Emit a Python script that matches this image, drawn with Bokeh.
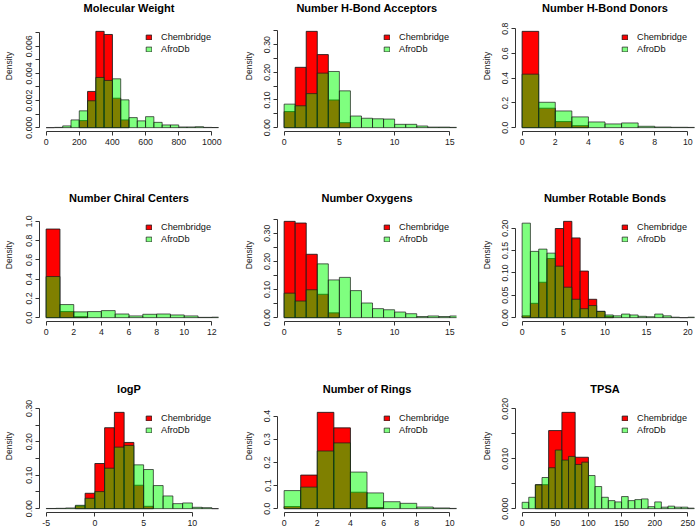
from bokeh.plotting import figure
from bokeh.models import Range1d, FixedTicker, Legend, LegendItem, Label
from bokeh.layouts import gridplot
from bokeh.embed import file_html
from bokeh.resources import INLINE

FONT = "Liberation Sans"

# ---------------- data (densities) ----------------
# Molecular Weight
mw_title = "Molecular Weight"
mw_chem_start, mw_chem_width = 200, 50
mw_chem = [0.00052, 0.00267, 0.0071, 0.00687, 0.00217, 0.00057]
mw_afro_start, mw_afro_width = 0, 50
mw_afro = [0.0, 0.00002, 0.00013, 0.00057, 0.00124, 0.00198, 0.0037, 0.00348, 0.0036,
           0.00205, 0.00074, 0.0005, 0.00081, 0.00039, 0.0002, 0.0002, 0.00005,
           0.00005, 0.00007, 0.00002, 0.00001]
mw_xlim = (0, 1000)
mw_ylim = 0.0071
mw_xticks = [0, 200, 400, 600, 800, 1000]
mw_yticks = [0.0, 0.001, 0.002, 0.003, 0.004, 0.005, 0.006, 0.007]
mw_ylabels = ["0.000", "", "0.002", "", "0.004", "", "0.006", ""]

# Number H-Bond Acceptors
hba_title = "Number H-Bond Acceptors"
hba_chem_start, hba_chem_width = 0, 1
hba_chem = [0.058, 0.218, 0.348, 0.264, 0.100, 0.018]
hba_afro_start, hba_afro_width = 0, 1
hba_afro = [0.085, 0.079, 0.123, 0.197, 0.203, 0.133, 0.042, 0.034, 0.032, 0.031,
            0.012, 0.012, 0.006, 0.002, 0.002, 0.001]
hba_xlim = (0, 15)
hba_ylim = 0.348
hba_xticks = [0, 5, 10, 15]
hba_yticks = [0.0, 0.05, 0.10, 0.15, 0.20, 0.25, 0.30, 0.35]
hba_ylabels = ["0.00", "", "0.10", "", "0.20", "", "0.30", ""]

# Number H-Bond Donors
hbd_title = "Number H-Bond Donors"
hbd_chem_start, hbd_chem_width = 0, 1
hbd_chem = [0.778, 0.157, 0.049, 0.016]
hbd_afro_start, hbd_afro_width = 0, 1
hbd_afro = [0.432, 0.205, 0.135, 0.087, 0.046, 0.030, 0.038, 0.011, 0.005, 0.003, 0.002]
hbd_xlim = (0, 10)
hbd_ylim = 0.778
hbd_xticks = [0, 2, 4, 6, 8, 10]
hbd_yticks = [0.0, 0.2, 0.4, 0.6, 0.8]
hbd_ylabels = ["0.0", "0.2", "0.4", "0.6", "0.8"]

# Number Chiral Centers
chi_title = "Number Chiral Centers"
chi_chem_start, chi_chem_width = 0, 1
chi_chem = [0.920, 0.063, 0.010]
chi_afro_start, chi_afro_width = 0, 1
chi_afro = [0.427, 0.136, 0.060, 0.063, 0.073, 0.038, 0.018, 0.035, 0.038, 0.028,
            0.018, 0.003, 0.005]
chi_xlim = (0, 12)
chi_ylim = 1.0
chi_xticks = [0, 2, 4, 6, 8, 10, 12]
chi_yticks = [0.0, 0.2, 0.4, 0.6, 0.8, 1.0]
chi_ylabels = ["0.0", "0.2", "0.4", "0.6", "0.8", "1.0"]

# Number Oxygens
oxy_title = "Number Oxygens"
oxy_chem_start, oxy_chem_width = 0, 1
oxy_chem = [0.342, 0.336, 0.225, 0.083, 0.017]
oxy_afro_start, oxy_afro_width = 0, 1
oxy_afro = [0.087, 0.059, 0.099, 0.191, 0.134, 0.143, 0.096, 0.052, 0.032, 0.028,
            0.020, 0.014, 0.004, 0.006, 0.004, 0.006]
oxy_xlim = (0, 15)
oxy_ylim = 0.342
oxy_xticks = [0, 5, 10, 15]
oxy_yticks = [0.0, 0.05, 0.10, 0.15, 0.20, 0.25, 0.30, 0.35]
oxy_ylabels = ["0.00", "", "0.10", "", "0.20", "", "0.30", ""]

# Number Rotable Bonds
rot_title = "Number Rotable Bonds"
rot_chem_start, rot_chem_width = 0, 1
rot_chem = [0.004, 0.032, 0.079, 0.132, 0.199, 0.215, 0.178, 0.104, 0.041, 0.014, 0.003]
rot_afro_start, rot_afro_width = 0, 1
rot_afro = [0.211, 0.148, 0.153, 0.144, 0.115, 0.068, 0.041, 0.020, 0.027, 0.014,
            0.006, 0.004, 0.008, 0.006, 0.003, 0.002, 0.008, 0.004, 0.001, 0.000, 0.001]
rot_xlim = (0, 20)
rot_ylim = 0.215
rot_xticks = [0, 5, 10, 15, 20]
rot_yticks = [0.0, 0.05, 0.10, 0.15, 0.20]
rot_ylabels = ["0.00", "0.05", "0.10", "0.15", "0.20"]

# logP
logp_title = "logP"
logp_chem_start, logp_chem_width = -2, 1
logp_chem = [0.008, 0.046, 0.135, 0.242, 0.288, 0.198, 0.070, 0.007]
logp_afro_start, logp_afro_width = -5, 1
logp_afro = [0.0005, 0.001, 0.002, 0.010, 0.031, 0.051, 0.121, 0.184, 0.189, 0.131,
             0.117, 0.069, 0.038, 0.015, 0.017, 0.004, 0.003, 0.0]
logp_xlim = (-5, 12)
logp_ylim = 0.288
logp_xticks = [-5, 0, 5, 10]
logp_yticks = [0.0, 0.05, 0.10, 0.15, 0.20, 0.25, 0.30]
logp_ylabels = ["0.00", "", "0.10", "", "0.20", "", "0.30"]

# Number of Rings
ring_title = "Number of Rings"
ring_chem_start, ring_chem_width = 0, 1
ring_chem = [0.009, 0.145, 0.416, 0.349, 0.071, 0.005]
ring_afro_start, ring_afro_width = 0, 1
ring_afro = [0.078, 0.093, 0.249, 0.284, 0.158, 0.068, 0.030, 0.023, 0.007, 0.003, 0.001]
ring_xlim = (0, 10)
ring_ylim = 0.416
ring_xticks = [0, 2, 4, 6, 8, 10]
ring_yticks = [0.0, 0.1, 0.2, 0.3, 0.4]
ring_ylabels = ["0.0", "0.1", "0.2", "0.3", "0.4"]

# TPSA
tpsa_title = "TPSA"
tpsa_chem_start, tpsa_chem_width = 20, 20
tpsa_chem = [0.0048, 0.01565, 0.0193, 0.0103]
tpsa_afro_start, tpsa_afro_width = 0, 10
tpsa_afro = [0.00127, 0.00228, 0.00477, 0.00624, 0.0082, 0.01174, 0.00973, 0.01047,
             0.00886, 0.00932, 0.00664, 0.00443, 0.00228, 0.00161, 0.00135, 0.00242,
             0.00161, 0.00181, 0.00195, 0.0004, 0.00135, 0.0003, 0.0005, 0.0003,
             0.0003, 0.0001]
tpsa_xlim = (0, 250)
tpsa_ylim = 0.0193
tpsa_xticks = [0, 50, 100, 150, 200, 250]
tpsa_yticks = [0.0, 0.005, 0.010, 0.015, 0.020]
tpsa_ylabels = ["0.000", "", "0.010", "", "0.020"]

series_names = ["Chembridge", "AfroDb"]

# ---------------- layout ----------------
COL_W = [240, 238, 219]
LEFT = [39, 37, 37]
RIGHT = [22, 22, 3]
FRAME_W = 179
ROW_H = [188, 191, 152]
TOP = [27, 29, 29]        # space above the plot region (holds the title)
BOTTOM = [57, 58, 19]
FRAME_H = 104             # height of the plot region proper
LABEL_STANDOFF = [10, 8, 8]
TITLE_GAP = 19.8


def edges(start, width, vals):
    lefts = [start + i * width for i in range(len(vals))]
    rights = [l + width for l in lefts]
    return lefts, rights


def make_panel(r, c, title, cs, cw, chem, a_s, aw, afro, xlim, ylim, xticks, yticks, ylabels):
    xr = xlim[1] - xlim[0]
    per_px = 1.08 * ylim / FRAME_H
    p = figure(width=COL_W[c], height=ROW_H[r], output_backend="svg",
               toolbar_location=None, tools="",
               x_range=Range1d(xlim[0] - 0.04 * xr, xlim[1] + 0.04 * xr),
               y_range=Range1d(-0.04 * ylim, 1.04 * ylim + TOP[r] * per_px),
               min_border_left=LEFT[c], min_border_right=RIGHT[c],
               min_border_top=0, min_border_bottom=BOTTOM[r])
    p.outline_line_color = None
    p.grid.visible = False
    p.background_fill_color = "white"
    p.border_fill_color = "white"

    # panel title, centred above the plotting region
    p.add_layout(Label(x=FRAME_W / 2, y=FRAME_H + TITLE_GAP, x_units="screen", y_units="screen",
                       text=title, text_align="center", text_baseline="middle",
                       text_font=FONT, text_font_size="11px", text_font_style="bold",
                       text_color="black"))

    cl, cr = edges(cs, cw, chem)
    al, ar = edges(a_s, aw, afro)
    rc = p.quad(left=cl, right=cr, bottom=0, top=chem, fill_color="#ff0000", fill_alpha=1.0,
                line_color="#1a1a1a", line_alpha=0.85, line_width=1)
    ra = p.quad(left=al, right=ar, bottom=0, top=afro, fill_color="#00ff00", fill_alpha=0.5,
                line_color="#1a1a1a", line_alpha=0.7, line_width=1)

    for ax in (p.xaxis[0], p.yaxis[0]):
        ax.axis_line_color = "#333333"
        ax.major_tick_line_color = "#333333"
        ax.major_tick_in = 0
        ax.major_tick_out = 4
        ax.minor_tick_line_color = None
        ax.major_label_text_font = FONT
        ax.major_label_text_font_size = "8.8px"
        ax.major_label_text_color = "#222222"
        ax.major_label_standoff = 3

    p.xaxis.ticker = FixedTicker(ticks=xticks)
    p.xaxis.bounds = (xticks[0], xticks[-1])
    p.xaxis.major_label_overrides = {t: str(t) for t in xticks}

    p.yaxis.ticker = FixedTicker(ticks=yticks)
    p.yaxis.bounds = (yticks[0], yticks[-1])
    p.yaxis.major_label_overrides = {t: s for t, s in zip(yticks, ylabels)}
    p.yaxis.major_label_orientation = "vertical"
    p.yaxis.axis_label = "Density"
    p.yaxis.axis_label_text_font = FONT
    p.yaxis.axis_label_text_font_size = "8.5px"
    p.yaxis.axis_label_text_font_style = "normal"
    p.yaxis.axis_label_text_color = "#222222"
    p.yaxis.axis_label_standoff = LABEL_STANDOFF[c]

    legend = Legend(items=[LegendItem(label=series_names[0], renderers=[rc]),
                           LegendItem(label=series_names[1], renderers=[ra])],
                    location=(106, 76))
    legend.border_line_color = None
    legend.background_fill_alpha = 0
    legend.padding = 0
    legend.margin = 0
    legend.spacing = 0
    legend.glyph_width = 7
    legend.glyph_height = 6
    legend.label_height = 12
    legend.label_standoff = 9
    legend.label_text_font = FONT
    legend.label_text_font_size = "9.2px"
    legend.label_text_color = "#111111"
    p.add_layout(legend)
    return p


p1 = make_panel(0, 0, mw_title, mw_chem_start, mw_chem_width, mw_chem, mw_afro_start, mw_afro_width,
                mw_afro, mw_xlim, mw_ylim, mw_xticks, mw_yticks, mw_ylabels)
p2 = make_panel(0, 1, hba_title, hba_chem_start, hba_chem_width, hba_chem, hba_afro_start, hba_afro_width,
                hba_afro, hba_xlim, hba_ylim, hba_xticks, hba_yticks, hba_ylabels)
p3 = make_panel(0, 2, hbd_title, hbd_chem_start, hbd_chem_width, hbd_chem, hbd_afro_start, hbd_afro_width,
                hbd_afro, hbd_xlim, hbd_ylim, hbd_xticks, hbd_yticks, hbd_ylabels)
p4 = make_panel(1, 0, chi_title, chi_chem_start, chi_chem_width, chi_chem, chi_afro_start, chi_afro_width,
                chi_afro, chi_xlim, chi_ylim, chi_xticks, chi_yticks, chi_ylabels)
p5 = make_panel(1, 1, oxy_title, oxy_chem_start, oxy_chem_width, oxy_chem, oxy_afro_start, oxy_afro_width,
                oxy_afro, oxy_xlim, oxy_ylim, oxy_xticks, oxy_yticks, oxy_ylabels)
p6 = make_panel(1, 2, rot_title, rot_chem_start, rot_chem_width, rot_chem, rot_afro_start, rot_afro_width,
                rot_afro, rot_xlim, rot_ylim, rot_xticks, rot_yticks, rot_ylabels)
p7 = make_panel(2, 0, logp_title, logp_chem_start, logp_chem_width, logp_chem, logp_afro_start, logp_afro_width,
                logp_afro, logp_xlim, logp_ylim, logp_xticks, logp_yticks, logp_ylabels)
p8 = make_panel(2, 1, ring_title, ring_chem_start, ring_chem_width, ring_chem, ring_afro_start, ring_afro_width,
                ring_afro, ring_xlim, ring_ylim, ring_xticks, ring_yticks, ring_ylabels)
p9 = make_panel(2, 2, tpsa_title, tpsa_chem_start, tpsa_chem_width, tpsa_chem, tpsa_afro_start, tpsa_afro_width,
                tpsa_afro, tpsa_xlim, tpsa_ylim, tpsa_xticks, tpsa_yticks, tpsa_ylabels)

grid = gridplot([[p1, p2, p3], [p4, p5, p6], [p7, p8, p9]], toolbar_location=None)

open("out.html", "w").write(file_html(grid, INLINE))
